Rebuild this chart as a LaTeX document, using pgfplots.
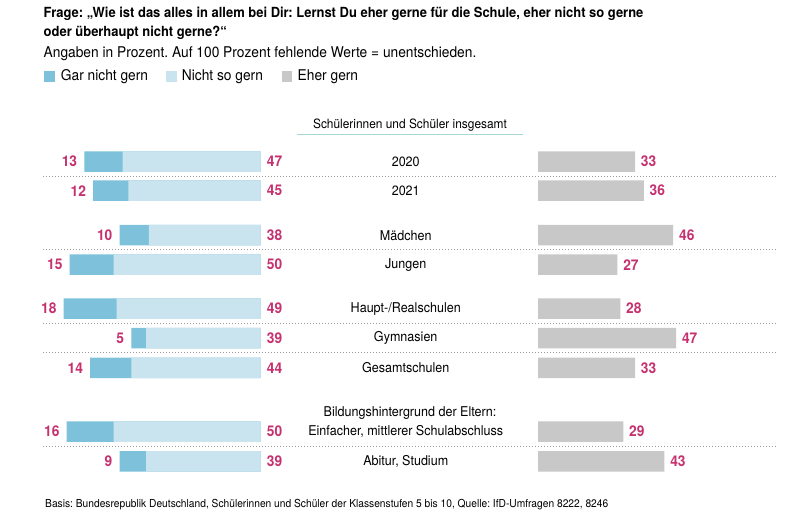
\documentclass[border=0pt]{standalone}
\usepackage{fontspec}
\setmainfont{TeX Gyre Heros}[FakeStretch=0.93]
\usepackage{pgfplots}
\pgfplotsset{compat=1.18}
\usepackage{pgfplotstable}
\definecolor{dunkel}{HTML}{7DC2DA}
\definecolor{hell}{HTML}{C9E4EF}
\definecolor{grau}{HTML}{C8C8C8}
\definecolor{mag}{HTML}{C63270}
\definecolor{tealline}{HTML}{A9D7D3}
\definecolor{dotgray}{HTML}{9A9A9A}
\frenchspacing

\pgfplotstableread{
y     gar nsg eher
161.5 13  47  33
190.7 12  45  36
235.2 10  38  46
264.7 15  50  27
308.7 18  49  28
338.0 5   39  47
367.8 14  44  33
431.5 16  50  29
461.4 9   39  43
}\data

\newcommand{\valfont}{\fontsize{14.8pt}{16pt}\selectfont\bfseries\color{mag}}
\pgfplotsset{
  rowaxis/.style={
    scale only axis, width=205.8pt, height=340pt,
    xmin=0, xmax=70, ymin=140, ymax=480, y dir=reverse,
    axis line style={draw=none}, tick style={draw=none},
    xtick=\empty, clip=false,
    xbar, bar width=20.5pt, bar shift=0pt,
  },
}

\begin{document}
\begin{tikzpicture}
\path[use as bounding box, fill=white] (0,0) rectangle (800pt,-519pt);

% title
\node[anchor=base west, inner sep=0] at (43.5pt,-17.7pt) {\fontsize{13.95pt}{17pt}\selectfont\bfseries Frage: „Wie ist das alles in allem bei Dir: Lernst Du eher gerne für die Schule, eher nicht so gerne};
\node[anchor=base west, inner sep=0] at (43.5pt,-36.7pt) {\fontsize{13.95pt}{17pt}\selectfont\bfseries oder überhaupt nicht gerne?“};
\node[anchor=base west, inner sep=0] at (43.5pt,-57pt) {\fontsize{14.8pt}{17pt}\selectfont Angaben in Prozent. Auf 100 Prozent fehlende Werte = unentschieden.};

% legend
\fill[dunkel] (44pt,-71pt) rectangle (55pt,-81.5pt);
\node[anchor=base west, inner sep=0] at (60.7pt,-81pt) {\fontsize{14.8pt}{17pt}\selectfont Gar nicht gern};
\fill[hell] (165.7pt,-71pt) rectangle (176.5pt,-81.5pt);
\node[anchor=base west, inner sep=0] at (181.7pt,-81pt) {\fontsize{14.8pt}{17pt}\selectfont Nicht so gern};
\fill[grau] (281.5pt,-71pt) rectangle (292.3pt,-81.5pt);
\node[anchor=base west, inner sep=0] at (297.5pt,-81pt) {\fontsize{14.8pt}{17pt}\selectfont Eher gern};

% group headers
\node[anchor=center, inner sep=0] at (410pt,-125pt) {\fontsize{12.8pt}{15pt}\selectfont Schülerinnen und Schüler insgesamt};
\draw[tealline, line width=1.2pt] (296.7pt,-134.3pt) -- (523.3pt,-134.3pt);
\node[anchor=center, inner sep=0] at (410pt,-413pt) {\fontsize{13.5pt}{15pt}\selectfont Bildungshintergrund der Eltern:};

% dotted separators
\foreach \yy in {176.3,249.5,323.3,352.7,446.7}{
  \draw[dotgray, line width=0.8pt, dash pattern=on 0.8pt off 2.2pt] (43pt,-\yy pt) -- (777pt,-\yy pt);
}

% left side
\begin{axis}[rowaxis, at={(260.7pt,-140pt)}, anchor=north east, x dir=reverse, ytick=\empty]
% total bar (gar nicht + nicht so gern); the dark part shows beyond the light bar
\addplot[draw=none, fill=dunkel, point meta=explicit symbolic,
  nodes near coords={\valfont\pgfplotspointmeta},
  every node near coord/.append style={anchor=east, inner sep=0pt, xshift=-7pt}]
  table[x expr=\thisrow{gar}+\thisrow{nsg}, y=y, meta=gar] {\data};
\addplot[draw=none, fill=hell] table[x=nsg, y=y] {\data};
\addplot[draw=none, fill=none, point meta=explicit symbolic,
  nodes near coords={\valfont\pgfplotspointmeta},
  every node near coord/.append style={anchor=west, inner sep=0pt, xshift=6pt}]
  table[x expr=0, y=y, meta=nsg] {\data};
\end{axis}

% right side
\begin{axis}[rowaxis, at={(538pt,-140pt)}, anchor=north west,
  ytick={161.5,190.7,235.2,264.7,308.7,338.0,367.8,431.5,461.4},
  yticklabels={2020,2021,Mädchen,Jungen,Haupt-/Realschulen,Gymnasien,Gesamtschulen,{Einfacher, mittlerer Schulabschluss},{Abitur, Studium}},
  yticklabel style={anchor=center, inner sep=0pt, xshift=-128pt, font=\fontsize{13.5pt}{15pt}\selectfont}]
\addplot[draw=none, fill=grau, point meta=explicit symbolic,
  nodes near coords={\valfont\pgfplotspointmeta},
  every node near coord/.append style={anchor=west, inner sep=0pt, xshift=5.7pt}]
  table[x=eher, y=y, meta=eher] {\data};
\end{axis}

% footnote
\node[anchor=base west, inner sep=0] at (45pt,-507pt) {\fontsize{11pt}{13pt}\selectfont Basis: Bundesrepublik Deutschland, Schülerinnen und Schüler der Klassenstufen 5 bis 10, Quelle: IfD-Umfragen 8222, 8246};
\end{tikzpicture}
\end{document}
